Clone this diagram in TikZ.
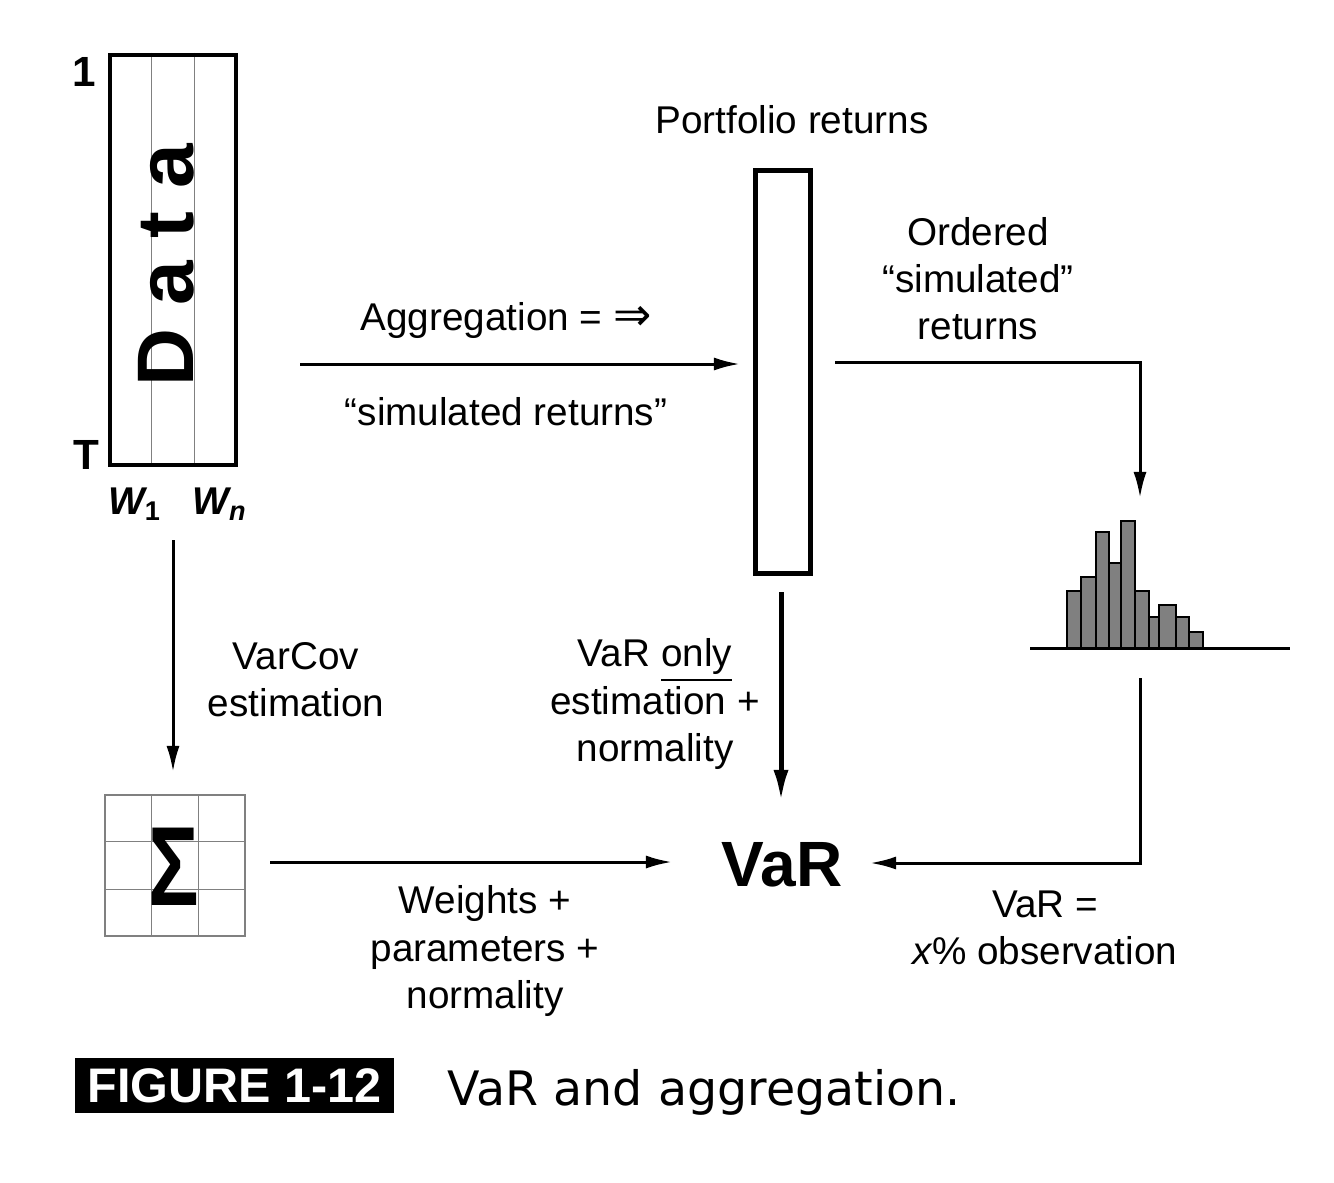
\documentclass[tikz,border=0pt]{standalone}
\usepackage{fontspec}
\setmainfont{Liberation Sans}
\newfontfamily\capfont{DejaVu Sans}
\newfontfamily\symfont{DejaVu Sans}
\usetikzlibrary{arrows.meta,calc}
\begin{document}
\begin{tikzpicture}[x=0.01cm,y=-0.01cm,
  lbl/.style={font=\fontsize{11}{13.4}\selectfont, align=center, inner sep=0pt},
  arr/.style={line width=0.03cm, -{Latex[length=0.26cm,width=0.13cm]}},
  thickarr/.style={line width=0.05cm, -{Latex[length=0.32cm,width=0.15cm]}},
  thickbox/.style={draw, line width=0.045cm, inner sep=0pt},
  gridline/.style={draw=gray, line width=0.012cm},
  bar/.style={fill=gray, draw=black, line width=0.022cm},
]
\useasboundingbox (0,0) rectangle (1334,1182);

% ---------- Data block ----------
\node[thickbox, minimum width=1.26cm, minimum height=4.1cm] (data) at (173,260) {};
\draw[gridline] ($(data.north west)!1/3!(data.north east)$) -- ($(data.south west)!1/3!(data.south east)$);
\draw[gridline] ($(data.north west)!2/3!(data.north east)$) -- ($(data.south west)!2/3!(data.south east)$);
\node[thickbox, minimum width=1.26cm, minimum height=4.1cm] at (173,260) {};
\node[rotate=90, inner sep=0pt, font=\fontsize{22.8}{24}\selectfont\bfseries] (datatxt) at (166,265) {D\hspace{6.5pt}a\hspace{6.5pt}t\hspace{6.5pt}a};
\node[inner sep=0pt, font=\fontsize{12}{12}\selectfont\bfseries] (one) at (84,72) {1};
\node[inner sep=0pt, font=\fontsize{12}{12}\selectfont\bfseries] (tee) at (86,455) {T};
\node[inner sep=0pt, font=\fontsize{11}{12}\selectfont\bfseries] (w1) at (135,504) {\itshape W\textsubscript{\upshape 1}};
\node[inner sep=0pt, font=\fontsize{11}{12}\selectfont\bfseries] (wn) at (220,504) {\itshape W\textsubscript{n}};

% ---------- Portfolio block ----------
\node[lbl] (ptitle) at (792,120) {Portfolio returns};
\node[thickbox, minimum width=0.55cm, minimum height=4.03cm] (port) at (783,372) {};

% ---------- Aggregation arrow ----------
\coordinate (a1) at (300,364);
\coordinate (a2) at (740,364);
\draw[arr] (a1) -- (a2);
\node[lbl] (agg) at (506,320) {Aggregation = {\symfont\fontsize{13}{13}\selectfont ⇒}};
\node[lbl] (simret) at (506,412) {“simulated returns”};

% ---------- Ordered returns ----------
\node[lbl] (ordered) at (978,279) {Ordered\\“simulated”\\returns};
\coordinate (o1) at (835,362);
\coordinate (o2) at (1140,498);
\draw[arr] (o1) -| (o2);

% ---------- Histogram ----------
\foreach \a/\b/\t in {1067/1081/591, 1081/1096/577, 1096/1109/532, 1109/1121/563, 1121/1135/521,
                      1135/1149/591, 1149/1159/617, 1159/1176/605, 1176/1189/617, 1189/1203/632}
  \filldraw[bar] (\a,648) rectangle (\b,\t);
\coordinate (hl) at (1030,648);
\coordinate (hr) at (1290,648);
\draw[line width=0.03cm] (hl) -- (hr);

% ---------- VaR ----------
\node[inner sep=0pt, font=\fontsize{18.2}{20}\selectfont\bfseries] (var) at (782,865) {VaR};
\coordinate (h1) at (1140,678);
\coordinate (v3) at (870,863);
\draw[arr] (h1) |- (v3);
\node[lbl] (vareq) at (1045,928) {VaR =\\{\itshape x}\% observation};

\coordinate (p1) at (781,592);
\coordinate (p2) at (781,802);
\draw[thickarr] (p1) -- (p2);
\node[lbl] (varonly) at (655,704) {VaR \underline{only}\\estimation +\\normality};

% ---------- VarCov ----------
\coordinate (d1) at (173,540);
\coordinate (d2) at (173,772);
\draw[arr] (d1) -- (d2);
\node[lbl] (varcov) at (296,680) {VarCov\\estimation};

% ---------- Sigma grid ----------
\node[draw=gray, line width=0.015cm, minimum width=1.4cm, minimum height=1.41cm, inner sep=0pt] (sig) at (175,865.5) {};
\draw[gridline] ($(sig.north west)!1/3!(sig.north east)$) -- ($(sig.south west)!1/3!(sig.south east)$);
\draw[gridline] ($(sig.north west)!2/3!(sig.north east)$) -- ($(sig.south west)!2/3!(sig.south east)$);
\draw[gridline] ($(sig.north west)!1/3!(sig.south west)$) -- ($(sig.north east)!1/3!(sig.south east)$);
\draw[gridline] ($(sig.north west)!2/3!(sig.south west)$) -- ($(sig.north east)!2/3!(sig.south east)$);
\node[inner sep=0pt, xscale=0.75, font=\fontsize{32}{32}\selectfont\bfseries] (sigma) at (174,867) {Σ};

\coordinate (s1) at (270,862);
\coordinate (s2) at (672,862);
\draw[arr] (s1) -- (s2);
\node[lbl] (weights) at (485,951) {Weights +\\parameters +\\normality};

% ---------- Caption ----------
\node[fill=black, minimum width=3.19cm, minimum height=0.55cm, inner sep=0pt, text=white,
      font=\fontsize{13.8}{14}\selectfont\bfseries] (figlab) at (234.5,1085.5) {FIGURE 1-12};
\node[anchor=base west, inner sep=0pt, font=\capfont\fontsize{13.5}{14}\selectfont] (cap) at (447,1105) {VaR and aggregation.};
\end{tikzpicture}
\end{document}
